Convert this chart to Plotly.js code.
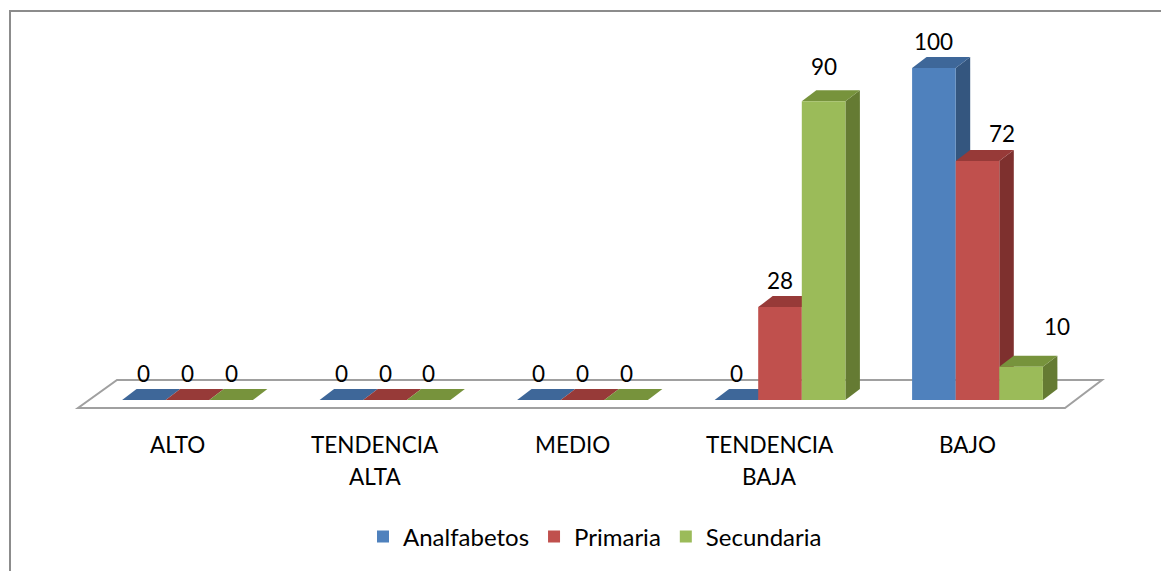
<!DOCTYPE html>
<html><head><meta charset="utf-8">
<script src="https://cdn.plot.ly/plotly-3.0.1.min.js"></script>
<style>html,body{margin:0;padding:0;background:#fff}#chart{width:1161px;height:571px}</style>
</head><body><div id="chart"></div>
<script>
// ---------- data ----------
const categories = ['ALTO', 'TENDENCIA ALTA', 'MEDIO', 'TENDENCIA BAJA', 'BAJO'];
const seriesNames = ['Analfabetos', 'Primaria', 'Secundaria'];
const analfabetos = [0, 0, 0, 0, 100];
const primaria = [0, 0, 0, 28, 72];
const secundaria = [0, 0, 0, 90, 10];

// ---------- styling ----------
const frontColors = ['#4F81BD', '#C0504D', '#9BBB59'];
const topColors = ['#3E6799', '#973A38', '#77933C'];
const sideColors = ['#34567F', '#7E302E', '#657B33'];
const FONT = 'Lato, "Open Sans", sans-serif';
const FS = 22.5;
// label nudges (px) where the original moved a label to avoid overlap
const labelNudge = {'3|2': [0, 8], '4|1': [24, 0], '4|2': [36, 13]};

// ---------- geometry (pixels) ----------
const W = 1161, H = 571;
const plotL = 60, plotR = 1120, plotT = 20, plotB = 430;
const zeroPx = 400, pxPerUnit = 3.32;
const catPx = 197.5, firstCatPx = 187.5;
const barPx = 43.6, depthX = 14.5, depthY = 11;

const xMin = -(firstCatPx - plotL) / catPx, xMax = (plotR - firstCatPx) / catPx;
const yMin = -(plotB - zeroPx) / pxPerUnit, yMax = (zeroPx - plotT) / pxPerUnit;
const px2x = p => (p - firstCatPx) / catPx;
const barW = barPx / catPx, dX = depthX / catPx, dY = depthY / pxPerUnit;

const allSeries = [analfabetos, primaria, secundaria];
const xIdx = categories.map((c, i) => i);

const traces = allSeries.map((vals, k) => ({
  type: 'bar', name: seriesNames[k], x: xIdx, y: vals,
  offset: -1.5 * barW + k * barW, width: barW,
  marker: {color: frontColors[k], line: {width: 0}},
  hoverinfo: 'skip'
}));

// floor plane
const floorFrontY = -8 / pxPerUnit, floorBackY = 20 / pxPerUnit;
const shapes = [{
  type: 'path', xref: 'x', yref: 'y', layer: 'below',
  path: `M${px2x(78)},${floorFrontY} L${px2x(1065)},${floorFrontY} L${px2x(1102)},${floorBackY} L${px2x(117)},${floorBackY} Z`,
  line: {color: '#A0A0A0', width: 2}, fillcolor: 'rgba(255,255,255,0)'
}];
const sideShapes = [], topShapes = [];
allSeries.forEach((vals, k) => {
  vals.forEach((v, i) => {
    const x0 = i - 1.5 * barW + k * barW, x1 = x0 + barW;
    if (v > 0) {
      sideShapes.push({type: 'path', xref: 'x', yref: 'y', layer: 'below',
        path: `M${x1},0 L${x1 + dX},${dY} L${x1 + dX},${v + dY} L${x1},${v} Z`,
        fillcolor: sideColors[k], line: {width: 0}});
    }
    topShapes.push({type: 'path', xref: 'x', yref: 'y', layer: 'below',
      path: `M${x0},${v} L${x1},${v} L${x1 + dX},${v + dY} L${x0 + dX},${v + dY} Z`,
      fillcolor: topColors[k], line: {width: 0}});
  });
});
shapes.push(...sideShapes, ...topShapes);

// outer chart border
const pw = plotR - plotL, ph = plotB - plotT;
shapes.push({type: 'rect', xref: 'paper', yref: 'paper', layer: 'above',
  x0: (10 - plotL) / pw, x1: (W + 20 - plotL) / pw,
  y0: (plotB - (H + 20)) / ph, y1: (plotB - 11) / ph,
  line: {color: '#8C8C8C', width: 2}, fillcolor: 'rgba(0,0,0,0)'});

const annotations = [];
allSeries.forEach((vals, k) => {
  vals.forEach((v, i) => {
    const nd = labelNudge[i + '|' + k] || [0, 0];
    annotations.push({x: i - 1.5 * barW + k * barW + barW / 2, y: v, xref: 'x', yref: 'y',
      text: String(v), showarrow: false, xanchor: 'center', yanchor: 'middle',
      xshift: nd[0], yshift: 27 + nd[1], font: {family: FONT, size: FS, color: '#000'}});
  });
});
categories.forEach((c, i) => {
  const lines = c.split(' ');
  lines.forEach((ln, j) => {
    annotations.push({x: i, y: 0, xref: 'x', yref: 'y', text: ln, showarrow: false,
      xanchor: 'center', yanchor: 'middle', xshift: -10.5, yshift: -44.5 - 31.5 * j,
      font: {family: FONT, size: FS, color: '#000'}});
  });
});

const layout = {
  width: W, height: H,
  margin: {l: plotL, r: W - plotR, t: plotT, b: H - plotB, pad: 0},
  paper_bgcolor: '#fff', plot_bgcolor: 'rgba(0,0,0,0)',
  barmode: 'overlay',
  xaxis: {range: [xMin, xMax], visible: false, fixedrange: true},
  yaxis: {range: [yMin, yMax], visible: false, fixedrange: true},
  showlegend: true,
  legend: {orientation: 'h', x: (595 - plotL) / pw, xanchor: 'center',
    y: (plotB - 537) / ph, yanchor: 'middle',
    font: {family: FONT, size: 24, color: '#000'}, itemwidth: 30, traceorder: 'normal'},
  shapes: shapes, annotations: annotations,
  font: {family: FONT}
};
Plotly.newPlot('chart', traces, layout, {staticPlot: true, displayModeBar: false});
</script></body></html>
